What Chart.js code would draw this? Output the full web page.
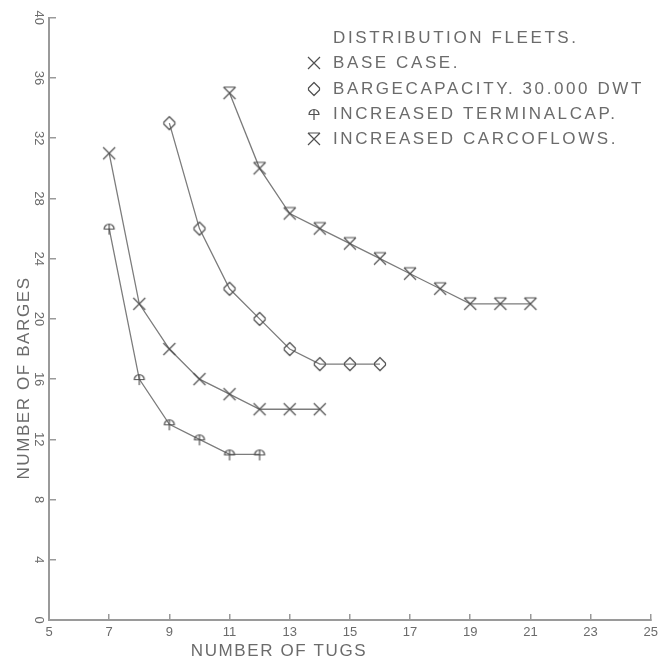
<!DOCTYPE html>
<html>
<head>
<meta charset="utf-8">
<script src="https://cdn.jsdelivr.net/npm/chart.js@4/dist/chart.umd.min.js"></script>
<style>
  body { margin: 0; background: #fff; }
  #wrap { width: 669px; height: 659px; position: relative; }
</style>
</head>
<body>
<div id="wrap"><canvas id="fleetChart"></canvas></div>
<script>
// Chart data
const baseTugs = [7, 8, 9, 10, 11, 12, 13, 14];
const baseBarges = [31, 21, 18, 16, 15, 14, 14, 14];
const capTugs = [9, 10, 11, 12, 13, 14, 15, 16];
const capBarges = [33, 26, 22, 20, 18, 17, 17, 17];
const termTugs = [7, 8, 9, 10, 11, 12];
const termBarges = [26, 16, 13, 12, 11, 11];
const cargoTugs = [11, 12, 13, 14, 15, 16, 17, 18, 19, 20, 21];
const cargoBarges = [35, 30, 27, 26, 25, 24, 23, 22, 21, 21, 21];

const seriesLabels = ['BASE CASE.', 'BARGECAPACITY. 30.000 DWT', 'INCREASED TERMINALCAP.', 'INCREASED CARCOFLOWS.'];
const legendTitle = 'DISTRIBUTION FLEETS.';
const xTitle = 'NUMBER OF TUGS';
const yTitle = 'NUMBER OF BARGES';

const ink = '#6b6b6b';
const markInk = '#505050';
const font = '"Liberation Sans", Arial, sans-serif';

// plotter-style marker symbols
function makeMarker(kind) {
    const s = 18, m = s / 2;
    const c = document.createElement('canvas');
    c.width = s; c.height = s;
    const g = c.getContext('2d');
    g.strokeStyle = markInk;
    g.fillStyle = markInk;
    g.lineWidth = 1.2;
    g.lineJoin = 'round';
    g.beginPath();
    if (kind === 'cross') {
        g.moveTo(m - 6, m - 6); g.lineTo(m + 6, m + 6);
        g.moveTo(m + 6, m - 6); g.lineTo(m - 6, m + 6);
    } else if (kind === 'diamond') {
        g.moveTo(m, m - 6.5);
        g.lineTo(m + 5.5, m - 1);
        g.lineTo(m + 5.5, m + 1);
        g.lineTo(m, m + 6.5);
        g.lineTo(m - 5.5, m + 1);
        g.lineTo(m - 5.5, m - 1);
        g.closePath();
    } else if (kind === 'umbrella') {
        g.arc(m, m + 0.5, 5, Math.PI, 0);
        g.closePath();
        g.moveTo(m, m - 4.5); g.lineTo(m, m + 6);
    } else if (kind === 'hourglass') {
        g.moveTo(m - 6, m - 6); g.lineTo(m + 6, m - 6);
        g.moveTo(m - 6, m - 6); g.lineTo(m + 6, m + 6);
        g.moveTo(m + 6, m - 6); g.lineTo(m - 6, m + 6);
    }
    g.stroke();
    return c;
}

const markers = [makeMarker('cross'), makeMarker('diamond'), makeMarker('umbrella'), makeMarker('hourglass')];

function pts(xs, ys) {
    return xs.map((x, i) => ({ x: x, y: ys[i] }));
}

function series(label, xs, ys, marker) {
    return {
        label: label,
        data: pts(xs, ys),
        borderColor: '#7c7c7c',
        borderWidth: 1.3,
        pointStyle: marker,
        pointRadius: 6,
        pointHoverRadius: 6,
        fill: false,
        tension: 0
    };
}

// legend + axis titles drawn in the plotter look
const plotterText = {
    id: 'plotterText',
    afterDraw(chart) {
        const ctx = chart.ctx;
        ctx.save();
        ctx.fillStyle = ink;
        ctx.textBaseline = 'middle';
        ctx.font = '17px ' + font;

        // legend block, wide plotter spacing
        ctx.letterSpacing = '2.6px';
        ctx.textAlign = 'left';
        ctx.fillText(legendTitle, 333, 38);
        const rows = [63, 89, 114, 139];
        chart.data.datasets.forEach((ds, i) => {
            ctx.drawImage(markers[i], 314 - 9, rows[i] - 9);
            ctx.fillText(ds.label, 333, rows[i]);
        });

        // axis titles
        ctx.letterSpacing = '1.6px';
        ctx.textAlign = 'center';
        ctx.fillText(xTitle, 279, 651);
        ctx.translate(24, 378);
        ctx.rotate(-Math.PI / 2);
        ctx.fillText(yTitle, 0, 0);
        ctx.restore();
    }
};

const ctx = document.getElementById('fleetChart').getContext('2d');
const fleetChart = new Chart(ctx, {
    type: 'line',
    data: {
        datasets: [
            series(seriesLabels[0], baseTugs, baseBarges, markers[0]),
            series(seriesLabels[1], capTugs, capBarges, markers[1]),
            series(seriesLabels[2], termTugs, termBarges, markers[2]),
            series(seriesLabels[3], cargoTugs, cargoBarges, markers[3])
        ]
    },
    options: {
        responsive: true,
        maintainAspectRatio: false,
        animation: false,
        layout: { padding: { left: 0, right: 17, top: 15, bottom: 0 } },
        plugins: {
            legend: { display: false },
            tooltip: { enabled: false }
        },
        scales: {
            x: {
                type: 'linear',
                min: 5,
                max: 25,
                border: { color: '#9a9a9a', width: 2 },
                grid: { drawOnChartArea: false, tickLength: -6, color: '#9a9a9a', lineWidth: 1.5 },
                ticks: {
                    stepSize: 2,
                    color: ink,
                    padding: 11,
                    maxRotation: 0,
                    font: { family: font, size: 13 }
                },
                afterFit(scale) { scale.height = 39; }
            },
            y: {
                min: 0,
                max: 40,
                border: { color: '#9a9a9a', width: 2 },
                grid: { drawOnChartArea: false, tickLength: -7, color: '#9a9a9a', lineWidth: 1.5 },
                ticks: {
                    stepSize: 4,
                    color: ink,
                    minRotation: -90,
                    maxRotation: -90,
                    crossAlign: 'center',
                    padding: 10,
                    font: { family: font, size: 13 }
                },
                afterFit(scale) { scale.width = 49; }
            }
        }
    },
    plugins: [plotterText]
});
</script>
</body>
</html>
